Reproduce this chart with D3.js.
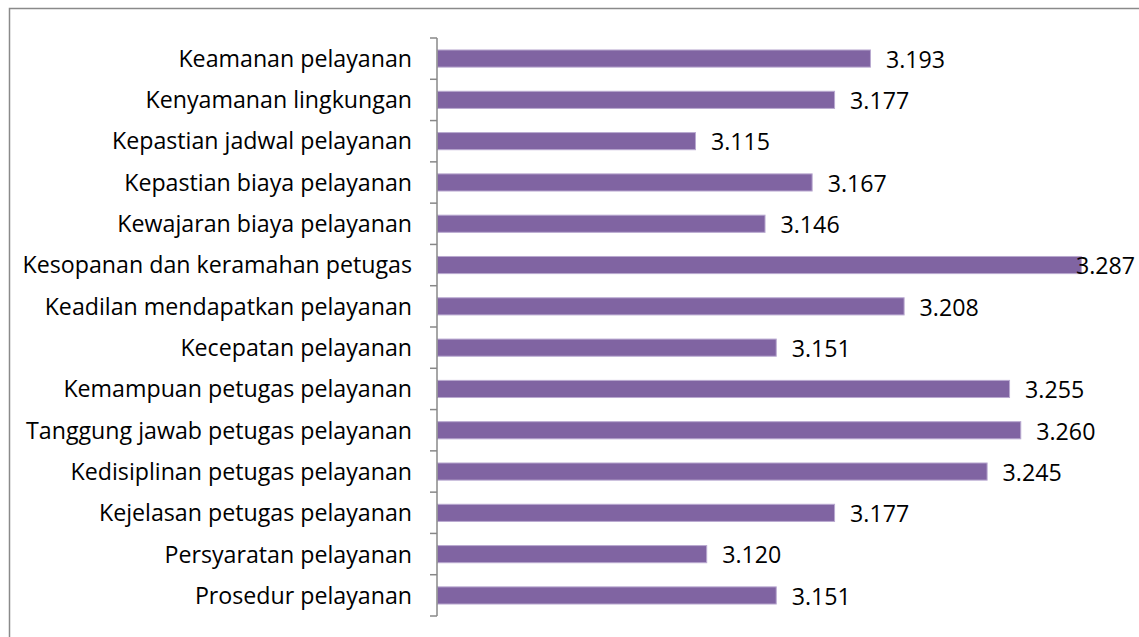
<!DOCTYPE html>
<html><head><meta charset="utf-8">
<script src="https://cdn.jsdelivr.net/npm/d3@7/dist/d3.min.js"></script>
<style>html,body{margin:0;padding:0;background:#fff;}svg{display:block;}</style>
</head><body><svg id="c" width="1139" height="637"></svg>
<script>
const categories = [
  "Keamanan pelayanan",
  "Kenyamanan lingkungan",
  "Kepastian jadwal pelayanan",
  "Kepastian biaya pelayanan",
  "Kewajaran biaya pelayanan",
  "Kesopanan dan keramahan petugas",
  "Keadilan mendapatkan pelayanan",
  "Kecepatan pelayanan",
  "Kemampuan petugas pelayanan",
  "Tanggung jawab petugas pelayanan",
  "Kedisiplinan petugas pelayanan",
  "Kejelasan petugas pelayanan",
  "Persyaratan pelayanan",
  "Prosedur pelayanan"
];
const values = [3.193, 3.177, 3.115, 3.167, 3.146, 3.287, 3.208, 3.151, 3.255, 3.260, 3.245, 3.177, 3.120, 3.151];
const valueLabels = ["3.193","3.177","3.115","3.167","3.146","3.287","3.208","3.151","3.255","3.260","3.245","3.177","3.120","3.151"];
const xDomain = [3.0, 3.3];

const W = 1139, H = 637;
const svg = d3.select("#c");
const FONT = "'Open Sans', 'DejaVu Sans', sans-serif";
const FS = 23.2;

// outer frame
svg.append("rect").attr("x", 9.5).attr("y", 8.5).attr("width", W + 20).attr("height", H + 20)
  .attr("fill", "#fff").attr("stroke", "#8a8a8a").attr("stroke-width", 1.5);

const x = d3.scaleLinear().domain(xDomain).range([437, 1110]);
const y = d3.scaleBand().domain(categories).range([38, 616]).paddingInner(0.585).paddingOuter(0.29);

// bars
svg.append("g").selectAll("rect").data(categories).join("rect")
  .attr("x", x(xDomain[0]) + 0.5)
  .attr("y", d => y(d))
  .attr("width", (d, i) => x(values[i]) - x(xDomain[0]))
  .attr("height", y.bandwidth())
  .attr("fill", "#8064A2")
  .attr("stroke", "#B9A9D0").attr("stroke-width", 1);

// axis with ticks between categories
const band = d3.scaleBand().domain(categories).range([38, 616]);
const axisG = svg.append("g");
axisG.append("line").attr("x1", 437).attr("x2", 437).attr("y1", 38).attr("y2", 616)
  .attr("stroke", "#888").attr("stroke-width", 1.5);
const tickYs = categories.map(c => band(c)).concat([616]);
axisG.selectAll("line.t").data(tickYs).join("line").attr("class", "t")
  .attr("x1", 430).attr("x2", 437).attr("y1", d => d).attr("y2", d => d)
  .attr("stroke", "#888").attr("stroke-width", 1.5);

// category labels
svg.append("g").selectAll("text").data(categories).join("text")
  .attr("x", 412).attr("y", d => y(d) + y.bandwidth() / 2)
  .attr("dy", "0.36em").attr("text-anchor", "end")
  .attr("font-family", FONT).attr("font-size", FS).attr("fill", "#000")
  .text(d => d);

// value labels
svg.append("g").selectAll("text").data(categories).join("text")
  .attr("y", d => y(d) + y.bandwidth() / 2)
  .attr("dy", "0.4em")
  .attr("font-family", FONT).attr("font-size", FS).attr("fill", "#000")
  .text((d, i) => valueLabels[i])
  .each(function (d, i) {
    const w = this.getComputedTextLength();
    const px = Math.min(x(values[i]) + 16, W - 4 - w);
    d3.select(this).attr("x", px);
  });
</script></body></html>
